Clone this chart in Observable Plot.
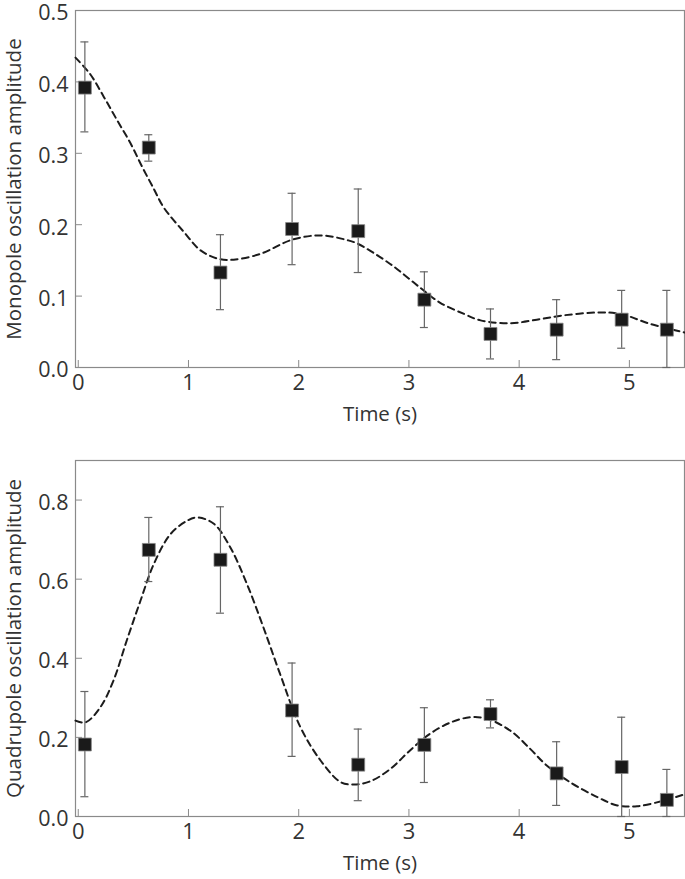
<!DOCTYPE html>
<html>
<head>
<meta charset="utf-8">
<script src="https://cdn.jsdelivr.net/npm/d3@7"></script>
<script src="https://cdn.jsdelivr.net/npm/@observablehq/plot@0.6"></script>
<style>
  html, body { margin: 0; padding: 0; background: #fff; }
  #chart svg { display: block; }
</style>
</head>
<body>
<div id="chart"></div>
<script>
// Measurement times (s)
const times = [0.06, 0.64, 1.29, 1.94, 2.54, 3.14, 3.74, 4.34, 4.93, 5.34];

// Monopole panel
const monoAmp = [0.392, 0.308, 0.133, 0.194, 0.191, 0.095, 0.047, 0.053, 0.067, 0.053];
const monoHi  = [0.456, 0.326, 0.186, 0.244, 0.250, 0.134, 0.082, 0.095, 0.108, 0.108];
const monoLo  = [0.330, 0.289, 0.081, 0.144, 0.133, 0.056, 0.012, 0.011, 0.027, 0.000];
const monoFitT = [-0.025, 0.112, 0.232, 0.354, 0.474, 0.58, 0.686, 0.776, 0.957, 1.11, 1.275, 1.41, 1.65, 1.94, 2.2, 2.45, 2.54, 2.83, 3.10, 3.28, 3.50, 3.65, 3.92, 4.16, 4.40, 4.71, 4.92, 5.19, 5.50];
const monoFitY = [0.434, 0.410, 0.379, 0.346, 0.314, 0.281, 0.250, 0.224, 0.190, 0.164, 0.152, 0.151, 0.159, 0.179, 0.185, 0.178, 0.173, 0.145, 0.112, 0.091, 0.075, 0.066, 0.062, 0.067, 0.073, 0.077, 0.075, 0.061, 0.049];
const monoTicks = [0, 0.1, 0.2, 0.3, 0.4, 0.5];

// Quadrupole panel
const quadAmp = [0.182, 0.674, 0.649, 0.268, 0.131, 0.181, 0.259, 0.109, 0.125, 0.042];
const quadHi  = [0.316, 0.756, 0.783, 0.388, 0.221, 0.275, 0.295, 0.189, 0.251, 0.119];
const quadLo  = [0.050, 0.594, 0.514, 0.152, 0.040, 0.086, 0.224, 0.028, 0.000, 0.000];
const quadFitT = [-0.025, 0.066, 0.20, 0.32, 0.44, 0.565, 0.685, 0.837, 0.99, 1.08, 1.23, 1.38, 1.53, 1.68, 1.83, 2.015, 2.20, 2.38, 2.50, 2.65, 2.83, 3.01, 3.19, 3.38, 3.56, 3.71, 3.92, 4.10, 4.25, 4.46, 4.71, 4.89, 5.07, 5.31, 5.50];
const quadFitY = [0.2425, 0.238, 0.276, 0.344, 0.445, 0.546, 0.638, 0.714, 0.748, 0.756, 0.740, 0.680, 0.588, 0.478, 0.361, 0.226, 0.141, 0.087, 0.081, 0.089, 0.120, 0.167, 0.209, 0.238, 0.251, 0.247, 0.217, 0.171, 0.129, 0.087, 0.049, 0.028, 0.026, 0.040, 0.056];
const quadTicks = [0, 0.2, 0.4, 0.6, 0.8];

const xTicks = [0, 1, 2, 3, 4, 5];
const xDomain = [-0.025, 5.5];

const FONT = "'Open Sans', 'DejaVu Sans', sans-serif";
const TEXT = "#333";
const AXIS = "#8a8a8a";

function panel({amp, hi, lo, fitT, fitY, yTicks, yMax, yLabel, height, marginTop, marginBottom}) {
  const pts = times.map((t, i) => ({t, y: amp[i], hi: hi[i], lo: lo[i]}));
  const fit = fitT.map((t, i) => ({t, y: fitY[i]}));
  return Plot.plot({
    width: 685,
    height,
    marginTop,
    marginBottom,
    marginLeft: 75,
    marginRight: 1,
    style: {fontFamily: FONT, fontSize: "21px", color: TEXT, background: "#fff", overflow: "visible"},
    x: {domain: xDomain, ticks: xTicks, tickFormat: d3.format("d")},
    y: {domain: [0, yMax], ticks: yTicks, tickFormat: d3.format(".1f")},
    marks: [
      Plot.axisX({ticks: xTicks, tickSize: 0, tickPadding: 7, tickFormat: d3.format("d"), label: null, fill: TEXT, fontSize: 22}),
      Plot.axisY({ticks: yTicks, tickSize: 0, tickPadding: 7, tickFormat: d3.format(".1f"), label: null, fill: TEXT, fontSize: 21.5, dy: 3}),
      // inward tick marks
      Plot.ruleX(xTicks, {x: d => d, y1: 0, y2: 0, insetTop: -7, stroke: AXIS, strokeWidth: 1}),
      Plot.ruleY(yTicks, {y: d => d, x1: xDomain[0], x2: xDomain[0], insetRight: -7, stroke: AXIS, strokeWidth: 1}),
      Plot.frame({stroke: AXIS, strokeWidth: 1.2}),
      // fit curve
      Plot.line(fit, {x: "t", y: "y", curve: "catmull-rom", stroke: "#1c1c1c", strokeWidth: 2, strokeDasharray: "6.5,4.5"}),
      // error bars
      Plot.ruleX(pts, {x: "t", y1: "lo", y2: "hi", stroke: "#666", strokeWidth: 1.2}),
      Plot.ruleY(pts, {y: "hi", x1: "t", x2: "t", insetLeft: -4, insetRight: -4, stroke: "#666", strokeWidth: 1.2}),
      Plot.ruleY(pts, {y: "lo", x1: "t", x2: "t", insetLeft: -4, insetRight: -4, stroke: "#666", strokeWidth: 1.2}),
      // data squares
      Plot.dot(pts, {x: "t", y: "y", symbol: "square", r: 7.3, fill: "#1a1a1a", stroke: "#888", strokeWidth: 0.8}),
      // axis titles
      Plot.text(["Time (s)"], {frameAnchor: "bottom", dy: 47, text: d => d, fontSize: 20.5, fill: TEXT, lineAnchor: "middle", textAnchor: "middle"}),
      Plot.text([yLabel], {frameAnchor: "left", dx: -61, rotate: -90, text: d => d, fontSize: 20.5, fill: TEXT, lineAnchor: "middle", textAnchor: "middle"})
    ]
  });
}

const chart = document.getElementById("chart");
chart.appendChild(panel({
  amp: monoAmp, hi: monoHi, lo: monoLo, fitT: monoFitT, fitY: monoFitY,
  yTicks: monoTicks, yMax: 0.5, yLabel: "Monopole oscillation amplitude",
  height: 440, marginTop: 10, marginBottom: 73
}));
chart.appendChild(panel({
  amp: quadAmp, hi: quadHi, lo: quadLo, fitT: quadFitT, fitY: quadFitY,
  yTicks: quadTicks, yMax: 0.9, yLabel: "Quadrupole oscillation amplitude",
  height: 439, marginTop: 20, marginBottom: 63
}));
</script>
</body>
</html>
